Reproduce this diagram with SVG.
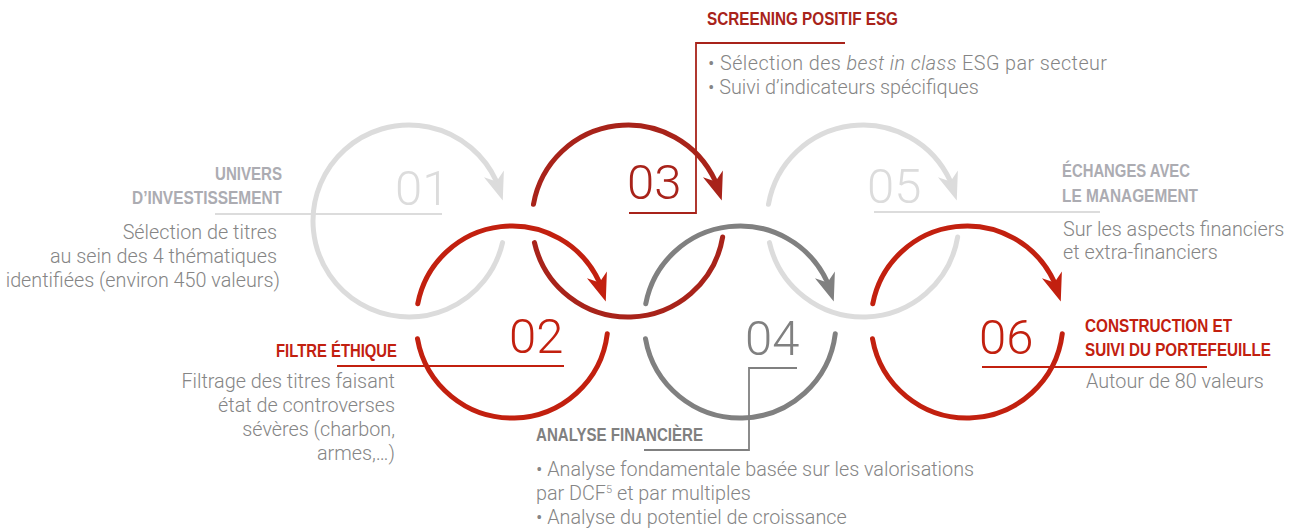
<svg xmlns="http://www.w3.org/2000/svg" xmlns:xlink="http://www.w3.org/1999/xlink" width="1297" height="529" viewBox="0 0 1297 529">
<style>
.ring{fill:none;stroke-width:5;stroke-linecap:round}
.num{font-family:Roboto,"Liberation Sans",sans-serif;font-weight:300;font-size:49px}
.hd{font-family:"Liberation Sans",Arial,sans-serif;font-weight:bold;font-size:17.5px}
.body{font-family:Roboto,"Liberation Sans",sans-serif;font-weight:300;font-size:19.8px;fill:#858585}
.lead{fill:none;stroke-width:1.8}
.lg{stroke:#dcdcdc}.lgf{fill:#dcdcdc}
.rd{stroke:#c2200f}.rdf{fill:#c2200f}
.dr{stroke:#a8231a}.drf{fill:#a8231a}
.gy{stroke:#808080}.gyf{fill:#808080}
.hlg{fill:#acacb2}
</style>
<defs>
<path id="ah" d="M0,0 L-28,-10.5 L-20,0 L-28,10.5 Z"/>
</defs>
<rect width="1297" height="529" fill="#ffffff"/>

<g id="node-01">
<path class="ring lg" d="M502.54,242.6 A96,96 0 1 1 496.43,181.34"/>
<use xlink:href="#ah" class="lgf" transform="translate(502.76,200.38) rotate(71.6)"/>
<text class="num lgf" x="395" y="205">01</text>
<text class="hd hlg" x="215" y="180" textLength="67" lengthAdjust="spacingAndGlyphs">UNIVERS</text>
<text class="hd hlg" x="132" y="204" textLength="150" lengthAdjust="spacingAndGlyphs">D’INVESTISSEMENT</text>
<text class="body" text-anchor="end" x="277" y="239">Sélection de titres</text>
<text class="body" text-anchor="end" x="277" y="263">au sein des 4 thématiques</text>
<text class="body" text-anchor="end" x="280" y="287">identifiées (environ 450 valeurs)</text>
</g>

<g id="node-02">
<path class="ring rd" d="M417.76,303.68 A96,96 0 0 1 599.43,282.34"/>
<use xlink:href="#ah" class="rdf" transform="translate(605.76,301.38) rotate(71.6)"/>
<path class="ring rd" d="M607.28,333.7 A96,96 0 0 1 417.46,338.67"/>
<text class="num rdf" x="509" y="353">02</text>
<text class="hd rdf" x="276" y="357" textLength="121" lengthAdjust="spacingAndGlyphs">FILTRE ÉTHIQUE</text>
<text class="body" text-anchor="end" x="395" y="388">Filtrage des titres faisant</text>
<text class="body" text-anchor="end" x="395" y="412">état de controverses</text>
<text class="body" text-anchor="end" x="395" y="436">sévères (charbon,</text>
<text class="body" text-anchor="end" x="395" y="460">armes,…)</text>
</g>

<g id="node-03">
<path class="ring dr" d="M533.46,204.33 A96,96 0 0 1 715.43,181.34"/>
<use xlink:href="#ah" class="drf" transform="translate(721.76,200.38) rotate(71.6)"/>
<path class="ring dr" d="M722.66,237.01 A96,96 0 0 1 534.46,242.6"/>
<text class="num drf" x="627" y="199">03</text>
<text class="hd drf" x="707" y="25" textLength="191" lengthAdjust="spacingAndGlyphs">SCREENING POSITIF ESG</text>
<text class="body" x="708" y="70" textLength="399" lengthAdjust="spacing">• Sélection des <tspan font-style="italic">best in class</tspan> ESG par secteur</text>
<text class="body" x="708" y="94">• Suivi d’indicateurs spécifiques</text>
</g>

<g id="node-04">
<path class="ring gy" d="M645.76,303.68 A96,96 0 0 1 827.43,282.34"/>
<use xlink:href="#ah" class="gyf" transform="translate(833.76,301.38) rotate(71.6)"/>
<path class="ring gy" d="M835.28,333.7 A96,96 0 0 1 645.46,338.67"/>
<text class="num gyf" x="745" y="355">04</text>
<text class="hd gyf" x="536" y="441" textLength="167" lengthAdjust="spacingAndGlyphs">ANALYSE FINANCIÈRE</text>
<text class="body" x="536" y="476">• Analyse fondamentale basée sur les valorisations</text>
<text class="body" x="536" y="500">par DCF<tspan font-size="11" dy="-7">5</tspan><tspan dy="7"> et par multiples</tspan></text>
<text class="body" x="536" y="524">• Analyse du potentiel de croissance</text>
</g>

<g id="node-05">
<path class="ring lg" d="M768.46,204.33 A96,96 0 0 1 950.43,181.34"/>
<use xlink:href="#ah" class="lgf" transform="translate(956.76,200.38) rotate(71.6)"/>
<path class="ring lg" d="M957.66,237.01 A96,96 0 0 1 769.46,242.6"/>
<text class="num lgf" x="867" y="203">05</text>
<text class="hd hlg" x="1062" y="177" textLength="128" lengthAdjust="spacingAndGlyphs">ÉCHANGES AVEC</text>
<text class="hd hlg" x="1062" y="202" textLength="136" lengthAdjust="spacingAndGlyphs">LE MANAGEMENT</text>
<text class="body" x="1063" y="236">Sur les aspects financiers</text>
<text class="body" x="1063" y="259">et extra-financiers</text>
</g>

<g id="node-06">
<path class="ring rd" d="M872.76,303.68 A96,96 0 0 1 1054.43,282.34"/>
<use xlink:href="#ah" class="rdf" transform="translate(1060.76,301.38) rotate(71.6)"/>
<path class="ring rd" d="M1062.28,333.7 A96,96 0 0 1 872.46,338.67"/>
<text class="num rdf" x="979" y="354">06</text>
<text class="hd rdf" x="1085" y="332" textLength="147" lengthAdjust="spacingAndGlyphs">CONSTRUCTION ET</text>
<text class="hd rdf" x="1085" y="356" textLength="186" lengthAdjust="spacingAndGlyphs">SUIVI DU PORTEFEUILLE</text>
<text class="body" x="1086" y="388">Autour de 80 valeurs</text>
</g>

<g id="connectors">
<path class="lead lg" d="M215,214 H442"/>
<path class="lead rd" d="M337,366 H564"/>
<path class="lead dr" d="M629,213 H696 V43 H845"/>
<path class="lead gy" d="M797,368 H749 V450 H644"/>
<path class="lead lg" d="M874,212 H1100"/>
<path class="lead rd" d="M982,367 H1207"/>
</g>
</svg>
